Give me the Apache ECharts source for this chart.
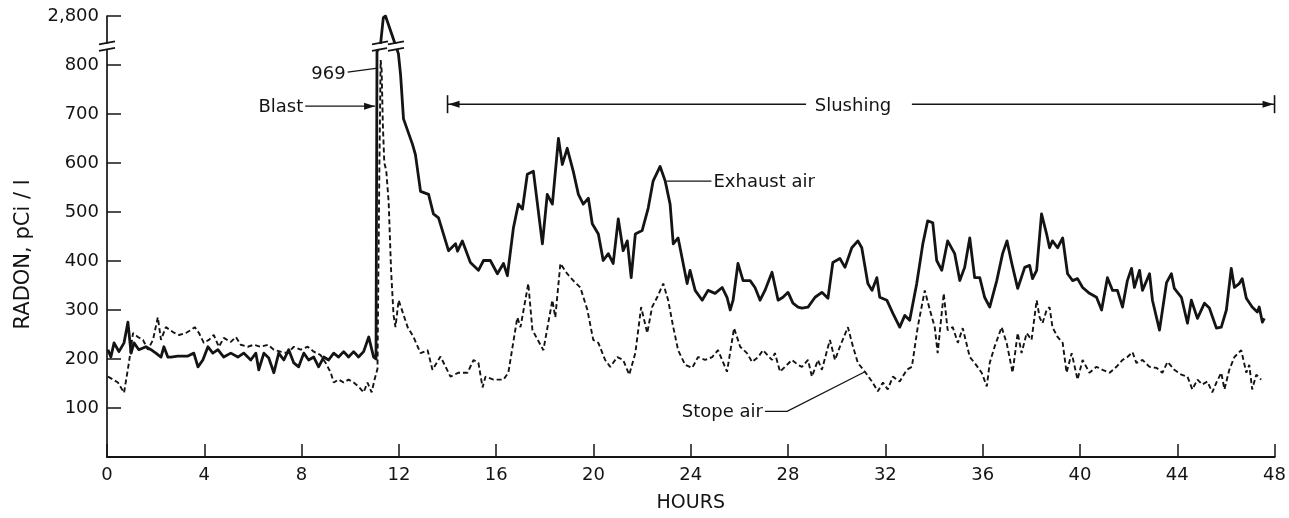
<!DOCTYPE html>
<html><head><meta charset="utf-8">
<script src="https://cdn.jsdelivr.net/npm/echarts@6/dist/echarts.min.js"></script>
<style>html,body{margin:0;padding:0;background:#fff}#c{width:1289px;height:518px}</style>
</head><body><div id="c"></div>
<script>
// Hours since start, radon concentration (pCi/l)
const exhaustAir = [
[0.04,219],[0.16,204],[0.29,233],[0.49,215],[0.70,233],[0.86,275],[0.99,212],[1.11,233],[1.31,219],[1.60,225],[1.81,219],[2.01,212],[2.22,204],[2.34,225],[2.50,204],[2.63,204],[2.91,206],[3.33,206],[3.57,212],[3.74,184],[3.94,198],[4.15,225],[4.35,212],[4.56,219],[4.80,204],[5.09,212],[5.38,204],[5.62,212],[5.91,198],[6.12,212],[6.24,178],[6.45,212],[6.65,202],[6.86,172],[7.06,212],[7.27,198],[7.47,219],[7.68,192],[7.88,184],[8.09,212],[8.29,198],[8.50,204],[8.70,184],[8.91,204],[9.11,198],[9.32,212],[9.52,204],[9.73,215],[9.93,204],[10.14,215],[10.34,204],[10.55,215],[10.76,245],[10.96,204],[11.06,200],
[11.10,1000],[11.24,1300],[11.36,2720],[11.45,2800],[11.52,2760],[11.87,1300],[11.98,900],[12.07,780],[12.19,690],[12.56,638],[12.68,617],[12.89,542],[13.22,536],[13.42,496],[13.63,488],[14.04,421],[14.33,435],[14.41,420],[14.61,441],[14.94,397],[15.27,381],[15.48,401],[15.76,401],[16.05,374],[16.30,395],[16.46,370],[16.71,468],[16.91,516],[17.08,506],[17.28,577],[17.53,583],[17.90,435],[18.10,536],[18.31,516],[18.56,650],[18.72,597],[18.92,630],[19.17,583],[19.38,536],[19.58,516],[19.79,528],[19.95,476],[20.20,455],[20.40,401],[20.61,415],[20.81,395],[21.02,486],[21.22,421],[21.39,441],[21.55,366],[21.72,455],[22.00,462],[22.25,508],[22.45,563],[22.74,593],[22.95,563],[23.15,516],[23.28,435],[23.48,447],[23.85,354],[23.97,381],[24.18,340],[24.47,320],[24.71,340],[25.00,334],[25.29,346],[25.49,326],[25.62,300],[25.74,320],[25.94,395],[26.15,360],[26.44,360],[26.64,346],[26.85,320],[27.05,340],[27.34,377],[27.59,320],[27.79,326],[28.00,336],[28.20,314],[28.41,306],[28.57,304],[28.82,306],[29.11,326],[29.39,336],[29.64,324],[29.84,397],[30.13,405],[30.34,387],[30.62,427],[30.87,441],[31.03,427],[31.28,354],[31.45,340],[31.65,366],[31.77,326],[32.06,320],[32.31,293],[32.59,265],[32.80,289],[33.00,279],[33.29,354],[33.54,435],[33.74,482],[33.95,478],[34.11,401],[34.32,381],[34.56,441],[34.85,415],[35.06,360],[35.26,387],[35.47,447],[35.67,366],[35.88,366],[36.08,326],[36.29,306],[36.58,360],[36.82,415],[37.00,441],[37.19,397],[37.44,344],[37.73,387],[37.93,391],[38.05,364],[38.22,381],[38.42,496],[38.63,455],[38.75,427],[38.87,441],[39.08,427],[39.29,447],[39.49,374],[39.70,360],[39.90,364],[40.11,346],[40.39,334],[40.68,326],[40.89,300],[41.13,366],[41.34,340],[41.54,340],[41.75,306],[41.95,360],[42.12,385],[42.24,346],[42.45,381],[42.57,340],[42.86,374],[42.98,320],[43.27,259],[43.56,356],[43.76,374],[43.88,344],[44.17,326],[44.42,273],[44.58,320],[44.83,283],[45.12,314],[45.32,304],[45.61,263],[45.81,265],[46.02,300],[46.22,385],[46.35,346],[46.55,354],[46.67,364],[46.84,324],[47.08,306],[47.29,296],[47.37,306],[47.50,275],[47.58,283]
];
const stopeAir = [
[0.04,164],[0.25,158],[0.45,152],[0.70,131],[0.90,192],[1.07,253],[1.27,245],[1.48,239],[1.68,219],[1.89,239],[2.09,285],[2.22,239],[2.42,265],[2.71,255],[2.96,249],[3.24,253],[3.45,259],[3.61,265],[3.78,253],[3.98,233],[4.19,239],[4.39,249],[4.60,225],[4.80,243],[5.09,235],[5.30,245],[5.50,229],[5.79,225],[6.03,229],[6.32,225],[6.61,229],[6.86,219],[7.14,215],[7.43,212],[7.68,225],[7.96,219],[8.25,225],[8.50,215],[8.78,208],[8.99,192],[9.20,172],[9.32,152],[9.52,158],[9.73,152],[9.93,158],[10.14,152],[10.34,144],[10.55,132],[10.71,152],[10.88,132],[11.00,158],[11.12,180],[11.20,600],[11.25,810],[11.29,790],[11.34,680],[11.40,600],[11.48,585],[11.58,520],[11.68,380],[11.78,290],[11.86,265],[11.99,320],[12.36,265],[12.60,245],[12.89,212],[13.18,218],[13.38,178],[13.71,205],[14.12,164],[14.45,172],[14.82,172],[15.07,198],[15.27,192],[15.44,142],[15.56,164],[15.89,158],[16.30,158],[16.50,172],[16.87,285],[17.00,265],[17.32,354],[17.49,259],[17.94,218],[18.31,320],[18.43,285],[18.64,395],[18.92,374],[19.17,360],[19.46,346],[19.75,300],[19.99,239],[20.20,233],[20.48,198],[20.69,184],[20.98,204],[21.22,198],[21.47,168],[21.72,212],[21.96,306],[22.21,253],[22.41,306],[22.62,326],[22.87,354],[23.07,320],[23.28,265],[23.48,218],[23.77,188],[24.06,182],[24.30,204],[24.59,198],[24.88,204],[25.12,218],[25.49,174],[25.78,263],[26.03,225],[26.31,212],[26.52,194],[26.77,204],[26.97,218],[27.34,198],[27.46,212],[27.67,174],[27.87,184],[28.16,198],[28.41,188],[28.57,184],[28.82,198],[28.98,164],[29.23,198],[29.39,178],[29.72,239],[29.93,198],[30.13,225],[30.46,265],[30.67,225],[30.87,192],[31.16,174],[31.45,154],[31.69,134],[31.90,152],[32.10,138],[32.31,164],[32.59,154],[32.88,178],[33.09,184],[33.33,265],[33.62,340],[33.83,300],[34.03,265],[34.15,212],[34.40,334],[34.56,259],[34.77,265],[34.98,233],[35.18,263],[35.47,204],[35.67,192],[35.96,172],[36.17,144],[36.29,192],[36.49,225],[36.78,265],[36.99,232],[37.23,172],[37.44,253],[37.60,212],[37.81,253],[38.01,239],[38.22,320],[38.34,285],[38.46,273],[38.63,300],[38.75,306],[38.87,265],[39.08,245],[39.29,233],[39.45,172],[39.66,212],[39.90,158],[40.11,198],[40.39,172],[40.68,184],[40.93,178],[41.22,172],[41.50,184],[41.75,198],[41.95,204],[42.16,214],[42.32,192],[42.57,198],[42.86,184],[43.14,182],[43.39,172],[43.60,194],[43.88,178],[44.17,168],[44.42,164],[44.62,138],[44.83,158],[45.03,148],[45.24,154],[45.44,132],[45.61,152],[45.81,172],[45.94,138],[46.14,178],[46.35,204],[46.63,218],[46.84,172],[46.96,188],[47.08,138],[47.25,168],[47.45,158]
];
const stopePeakLabel = '969';
const hourTickStep = 4;
const radonTickStep = 100;
const yAxisTitle = 'RADON, pCi / l';
const xAxisTitle = 'HOURS';

// broken y scale: linear to BREAK_LOW, compressed above up to AXIS_TOP_VALUE
const BREAK_LOW = 820, AXIS_TOP_VALUE = 2800, AXIS_TOP_DISPLAY = 900, BREAK_MARK = 838;
const K = (AXIS_TOP_DISPLAY - BREAK_LOW) / (AXIS_TOP_VALUE - BREAK_LOW);
function toDisplay(v){ return v <= BREAK_LOW ? v : BREAK_LOW + (v - BREAK_LOW) * K; }
function fromDisplay(d){ return d <= BREAK_LOW ? d : BREAK_LOW + (d - BREAK_LOW) / K; }

const INK = '#141414';
const FONT = 'DejaVu Sans';

function renderAnnotations(params, api){
  const P = (t, v) => api.coord([t, toDisplay(v)]);
  const PD = (t, d) => api.coord([t, d]);
  const children = [];
  const line = (a, b, w) => children.push({type:'line', shape:{x1:a[0], y1:a[1], x2:b[0], y2:b[1]}, style:{stroke:INK, lineWidth:w || 1.4}});
  const text = (s, x, y, align) => children.push({type:'text', style:{text:s, x:x, y:y, font:'18px "' + FONT + '"', fill:INK, textAlign:align, textVerticalAlign:'middle'}});
  const arrowHead = (tip, dir) => children.push({type:'polygon', shape:{points:[tip, [tip[0] - dir*11, tip[1] - 3.5], [tip[0] - dir*11, tip[1] + 3.5]]}, style:{fill:INK}});
  const breakMark = (c) => {
    children.push({type:'rect', shape:{x:c[0]-9, y:c[1]-2.5, width:18, height:5}, style:{fill:'#fff'}});
    line([c[0]-8, c[1]-2], [c[0]+8, c[1]-5], 1.6);
    line([c[0]-8, c[1]+4.5], [c[0]+8, c[1]+1.5], 1.6);
  };
  // axis break
  breakMark(PD(0, BREAK_MARK));
  // line breaks where exhaust curve crosses the break level
  const ex = exhaustAir.map(([t, v]) => [t, toDisplay(v)]);
  for (let i = 0; i < ex.length - 1; i++){
    const a = ex[i], b = ex[i+1];
    if ((a[1] - BREAK_MARK) * (b[1] - BREAK_MARK) < 0){
      const f = (BREAK_MARK - a[1]) / (b[1] - a[1]);
      breakMark(PD(a[0] + f * (b[0] - a[0]), BREAK_MARK));
    }
  }
  // 969 label at stope peak
  let pk = stopeAir[0];
  stopeAir.forEach(p => { if (p[1] > pk[1]) pk = p; });
  const pp = P(pk[0], pk[1]);
  line([pp[0]-33, pp[1]+12], [pp[0]-3, pp[1]+8], 1.3);
  text(stopePeakLabel, pp[0]-35, pp[1]+14, 'right');
  // Blast arrow
  const ba = P(8.15, 716), bb = P(11.02, 716);
  line(ba, bb, 1.4); arrowHead(bb, 1);
  text('Blast', ba[0]-2, ba[1]+1, 'right');
  // Slushing double arrow
  const sL = P(14, 720), sR = P(48, 720), sT = P(30.67, 720);
  line(sL, P(28.74, 720), 1.4);
  line(P(33.09, 720), sR, 1.4);
  line([sL[0], sL[1]-9], [sL[0], sL[1]+9], 1.6);
  line([sR[0], sR[1]-9], [sR[0], sR[1]+9], 1.6);
  arrowHead([sL[0]+1, sL[1]], -1);
  arrowHead([sR[0]-1, sR[1]], 1);
  text('Slushing', sT[0], sT[1]+2, 'center');
  // Exhaust air label
  const e1 = P(23.0, 563), e2 = P(24.85, 563);
  line(e1, e2, 1.4);
  text('Exhaust air', e2[0]+2, e2[1]+1, 'left');
  // Stope air label
  const s1 = P(27.05, 93), s2 = P(27.96, 93), s3 = P(31.16, 174);
  children.push({type:'polyline', shape:{points:[s1, s2, s3]}, style:{stroke:INK, lineWidth:1.3, fill:null}});
  text('Stope air', s1[0]-2, s1[1]+1, 'right');
  return {type:'group', children:children};
}

const chart = echarts.init(document.getElementById('c'), null, {renderer:'canvas'});
chart.setOption({
  animation:false,
  backgroundColor:'#ffffff',
  grid:{left:107, right:14, top:16, bottom:61, containLabel:false},
  xAxis:{
    type:'value', min:0, max:48, interval:hourTickStep,
    name:xAxisTitle, nameLocation:'middle', nameGap:37,
    nameTextStyle:{fontFamily:FONT, fontSize:19, color:INK},
    axisLine:{show:true, lineStyle:{color:INK, width:2.2}},
    axisTick:{show:true, inside:true, length:13, lineStyle:{color:INK, width:1.5}},
    axisLabel:{fontFamily:FONT, fontSize:18, color:INK, margin:9},
    splitLine:{show:false}
  },
  yAxis:{
    type:'value', min:0, max:AXIS_TOP_DISPLAY, interval:radonTickStep,
    name:yAxisTitle, nameLocation:'middle', nameGap:73, nameRotate:90,
    nameTextStyle:{fontFamily:FONT, fontSize:21, color:INK, padding:[0,36,0,0]},
    axisLine:{show:true, lineStyle:{color:INK, width:1.7}},
    axisTick:{show:true, inside:true, length:14, lineStyle:{color:INK, width:1.5}},
    axisLabel:{fontFamily:FONT, fontSize:18, color:INK, margin:8,
      formatter:(d) => d === 0 ? '' : Math.round(fromDisplay(d)).toLocaleString('en-US')},
    splitLine:{show:false}
  },
  series:[
    {name:'Exhaust air', type:'line', showSymbol:false, symbol:'none', z:3,
     data:exhaustAir.map(([t, v]) => [t, toDisplay(v)]),
     lineStyle:{color:INK, width:2.8, join:'round'}},
    {name:'Stope air', type:'line', showSymbol:false, symbol:'none', z:2,
     data:stopeAir.map(([t, v]) => [t, toDisplay(v)]),
     lineStyle:{color:INK, width:1.9, type:[5,3]}},
    {type:'custom', z:10, silent:true, clip:false, coordinateSystem:'cartesian2d',
     encode:{x:0, y:1}, data:[[0, 0]], renderItem:renderAnnotations}
  ]
});
</script>
</body></html>
